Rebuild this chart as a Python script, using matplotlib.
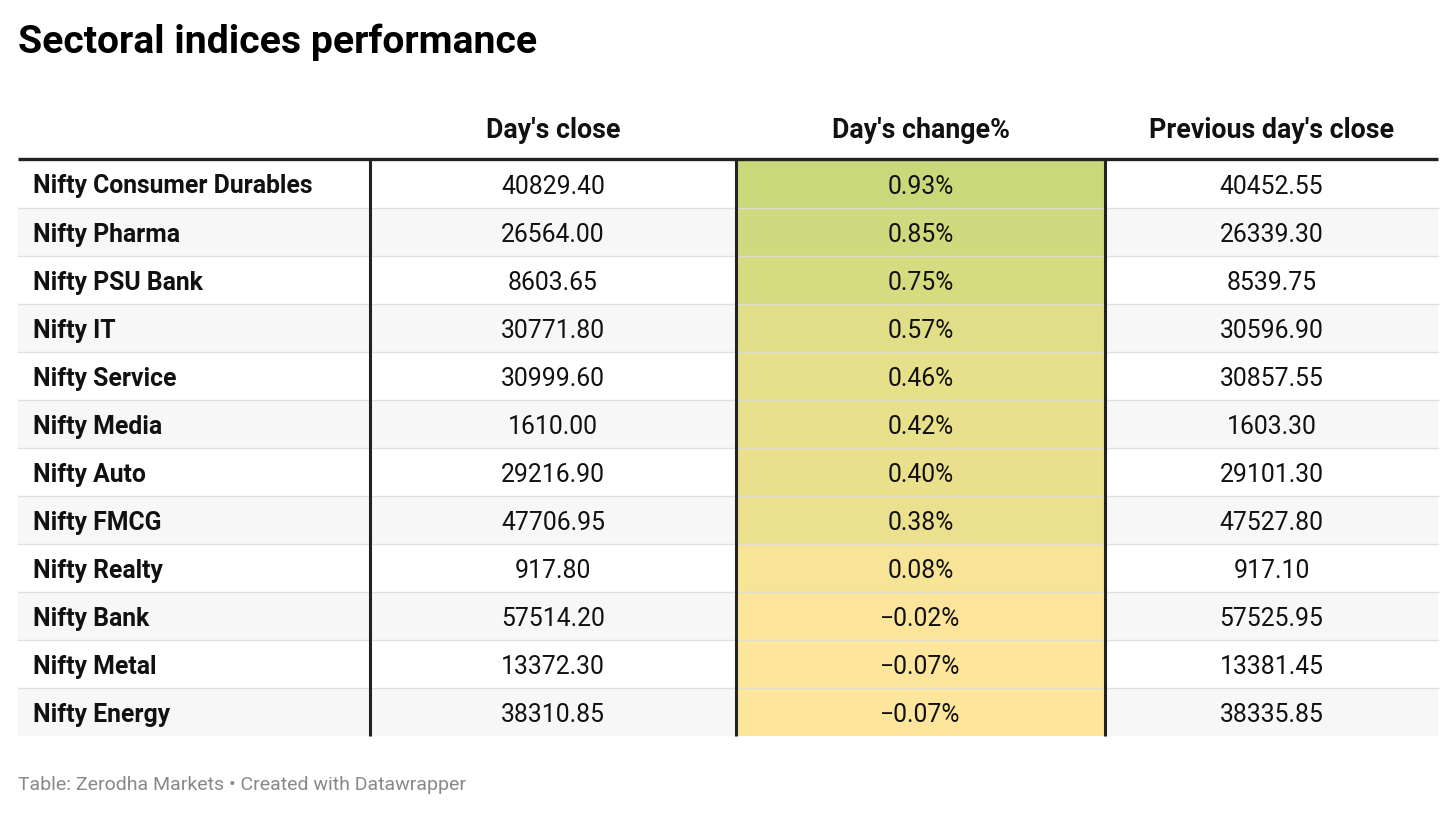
import matplotlib
matplotlib.use("Agg")
import matplotlib.pyplot as plt
from matplotlib.patches import Rectangle
import numpy as np
from matplotlib.colors import LinearSegmentedColormap, Normalize

plt.rcParams['font.family'] = ['Roboto', 'DejaVu Sans']

title = "Sectoral indices performance"
headers = ["", "Day's close", "Day's change%", "Previous day's close"]
sectors = ["Nifty Consumer Durables", "Nifty Pharma", "Nifty PSU Bank", "Nifty IT",
           "Nifty Service", "Nifty Media", "Nifty Auto", "Nifty FMCG", "Nifty Realty",
           "Nifty Bank", "Nifty Metal", "Nifty Energy"]
days_close = [40829.40, 26564.00, 8603.65, 30771.80, 30999.60, 1610.00, 29216.90,
              47706.95, 917.80, 57514.20, 13372.30, 38310.85]
days_change = [0.93, 0.85, 0.75, 0.57, 0.46, 0.42, 0.40, 0.38, 0.08, -0.02, -0.07, -0.07]
prev_close = [40452.55, 26339.30, 8539.75, 30596.90, 30857.55, 1603.30, 29101.30,
              47527.80, 917.10, 57525.95, 13381.45, 38335.85]
footer = "Table: Zerodha Markets • Created with Datawrapper"

W, H = 1456, 813
fig = plt.figure(figsize=(W / 100, H / 100), dpi=100)
ax = fig.add_axes([0, 0, 1, 1])
ax.set_xlim(0, W)
ax.set_ylim(H, 0)
ax.axis('off')

left, right = 18, 1438
col_edges = [left, 370, 736, 1105, right]
top = 160
row_h = 48

cmap = LinearSegmentedColormap.from_list("heat", ["#fee59c", "#e9e08b", "#c9d97a"])
norm = Normalize(vmin=min(days_change), vmax=max(days_change))

def fmt(v):
    s = f"{abs(v):.2f}"
    return ("\u2212" + s) if v < 0 else s

body_fs = 17.8
for i, name in enumerate(sectors):
    y0 = top + i * row_h
    bg = "#ffffff" if i % 2 == 0 else "#f7f7f7"
    ax.add_patch(Rectangle((left, y0), right - left, row_h, facecolor=bg, edgecolor='none', zorder=1))
    ax.add_patch(Rectangle((col_edges[2], y0), col_edges[3] - col_edges[2], row_h,
                           facecolor=cmap(norm(days_change[i])), edgecolor='none', zorder=2))
    if i > 0:
        ax.plot([left, right], [y0, y0], color="#dddddd", lw=1.0, zorder=3, alpha=0.9)
    yc = y0 + row_h / 2 + 2.5
    ax.text(33, yc, name, fontsize=body_fs, fontweight='bold', color='#111111', ha='left', va='center', zorder=5)
    ax.text((col_edges[1] + col_edges[2]) / 2, yc, f"{days_close[i]:.2f}", fontsize=body_fs,
            color='#111111', ha='center', va='center', zorder=5)
    ax.text((col_edges[2] + col_edges[3]) / 2, yc, fmt(days_change[i]) + "%", fontsize=body_fs,
            color='#111111', ha='center', va='center', zorder=5)
    ax.text((col_edges[3] + col_edges[4]) / 2, yc, f"{prev_close[i]:.2f}", fontsize=body_fs,
            color='#111111', ha='center', va='center', zorder=5)

bottom = top + len(sectors) * row_h
for x in col_edges[1:4]:
    ax.plot([x, x], [top, bottom], color="#222222", lw=2.2, zorder=4, solid_capstyle='butt')

ax.plot([left, right], [top - 1, top - 1], color="#222222", lw=2.4, zorder=6, solid_capstyle='butt')

for j in range(1, 4):
    ax.text((col_edges[j] + col_edges[j + 1]) / 2, 130, headers[j], fontsize=19.3,
            fontweight='bold', color='#111111', ha='center', va='center')

ax.text(18, 42, title, fontsize=28.2, fontweight='bold', color='#000000', ha='left', va='center')
ax.text(18, 785, footer, fontsize=14.0, color='#888888', ha='left', va='center')

fig.savefig("out.png", dpi=100, facecolor='white')
